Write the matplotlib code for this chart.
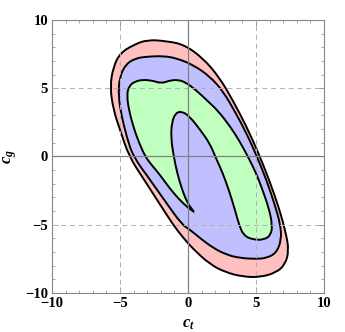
import numpy as np
import matplotlib
matplotlib.use("Agg")
import matplotlib.pyplot as plt
from matplotlib.path import Path
from matplotlib.patches import PathPatch

plt.rcParams['font.family'] = ['Liberation Serif', 'DejaVu Serif']
plt.rcParams['mathtext.fontset'] = 'custom'
plt.rcParams['mathtext.it'] = 'Liberation Serif:italic:bold'
plt.rcParams['mathtext.rm'] = 'Liberation Serif:bold'

# contour outlines (c_t, c_g)
outer_x = [-3.0, -1.6, -0.3, 1.1, 2.3, 3.3, 4.3, 5.2, 6.0, 6.7, 7.2, 7.42, 7.15, 6.5,
           5.3, 4.0, 2.8, 1.6, 0.3, -0.4, -1.1, -2.2, -3.3, -4.34, -5.0, -5.49, -5.74, -5.49,
           -5.0, -4.02]
outer_y = [8.55, 8.45, 8.2, 7.2, 5.8, 4.1, 2.2, 0.2, -1.8, -3.8, -5.6, -6.9, -7.9, -8.5,
           -8.85, -8.8, -8.5, -7.9, -6.7, -5.9, -5.0, -3.3, -1.6, 0.0, 1.94, 3.41, 5.11, 6.58,
           7.56, 8.17]

mid_x = [-3.04, -1.81, -0.83, 0.39, 1.62, 2.6, 3.5, 4.3, 5.07, 5.8, 6.4, 6.8, 6.87, 6.5, 5.77,
         5.04, 3.81, 2.84, 1.86, 0.88, 0.15, -0.44, -1.6, -2.8, -4.04, -4.5, -4.88, -5.12,
         -5.05, -4.55, -3.8]
mid_y = [7.31, 7.36, 7.19, 6.7, 5.85, 4.75, 3.2, 1.7, 0.0, -1.8, -3.6, -5.0, -6.1, -7.07, -7.44,
         -7.51, -7.44, -7.2, -6.71, -5.98, -5.37, -5.0, -3.4, -1.7, 0.0, 1.4, 2.92, 4.38,
         5.8, 6.8, 7.2]

green_x = [0.5, 0.0, -0.6, -1.3, -2.1, -2.7, -3.15, -3.6, -4.0, -4.35, -4.5, -4.35, -3.9, -3.3,
           -2.6, -1.95, -1.4, -0.8, -0.2, 0.6, 1.4, 2.2, 3.1, 3.8, 4.4, 5.0, 5.5, 5.95, 6.2,
           6.1, 5.6, 4.8, 4.1, 3.75, 3.45, 3.05, 2.55, 2.0, 1.6, 0.9, 0.1, -0.45, -0.9, -1.2,
           -1.25, -1.05, -0.8, -0.45, -0.05, 0.35]
green_y = [-4.1, -3.75, -3.2, -2.4, -1.3, -0.6, 0.0, 1.0, 2.1, 3.4, 4.5, 5.15, 5.5, 5.62,
           5.55, 5.35, 5.55, 5.62, 5.45, 4.85, 4.1, 3.35, 2.2, 1.1, 0.0, -1.2, -2.5, -3.8, -5.0,
           -5.75, -6.1, -6.1, -5.8, -5.0, -3.9, -2.6, -1.2, 0.0, 0.95, 1.95, 2.95, 3.3, 3.2,
           2.5, 1.3, 0.0, -1.2, -2.4, -3.4, -3.95]

ticks = [-10, -5, 0, 5, 10]


def smooth(xs, ys):
    # closed quadratic bezier through the midpoints of the outline
    pts = np.column_stack([xs, ys])
    mids = (pts + np.roll(pts, -1, axis=0)) / 2
    verts = [mids[-1]]
    codes = [Path.MOVETO]
    for p, m in zip(pts, mids):
        verts += [p, m]
        codes += [Path.CURVE3, Path.CURVE3]
    return Path(verts, codes)


fig = plt.figure(figsize=(3.45, 3.32), dpi=100)
ax = fig.add_axes([0.151, 0.1175, 0.788, 0.8225])

fills = [(outer_x, outer_y, '#ffc0c0'), (mid_x, mid_y, '#c0c0ff'), (green_x, green_y, '#c0ffc0')]
for xs, ys, col in fills:
    ax.add_patch(PathPatch(smooth(xs, ys), facecolor=col, edgecolor='black', lw=1.4, zorder=2))

for v in [-5, 5]:
    ax.axvline(v, color='#b0b0b0', ls=(0, (5, 4)), lw=0.7, zorder=3)
    ax.axhline(v, color='#b0b0b0', ls=(0, (5, 4)), lw=0.7, zorder=3)
ax.axvline(0, color='#808080', lw=0.9, zorder=3)
ax.axhline(0, color='#808080', lw=0.9, zorder=3)

ax.set_xlim(-10, 10)
ax.set_ylim(-10, 10)
ax.set_xticks(ticks)
ax.set_yticks(ticks)
ax.set_xticks(np.arange(-10, 11, 1), minor=True)
ax.set_yticks(np.arange(-10, 11, 1), minor=True)
ax.tick_params(which='both', direction='in', top=True, right=True, color='#888888',
               labelsize=10.5)
ax.tick_params(axis='x', pad=3)
ax.tick_params(axis='y', pad=3)
ax.tick_params(which='major', length=4, width=0.6)
ax.tick_params(which='minor', length=2, width=0.5)
for lab in ax.get_xticklabels() + ax.get_yticklabels():
    lab.set_fontweight('bold')
for s in ax.spines.values():
    s.set_color('#888888')
    s.set_linewidth(0.8)

ax.set_xlabel(r'$c_t$', fontsize=12, labelpad=4)
ax.set_ylabel(r'$c_g$', fontsize=12, labelpad=4)

fig.savefig('out.png', dpi=100)
